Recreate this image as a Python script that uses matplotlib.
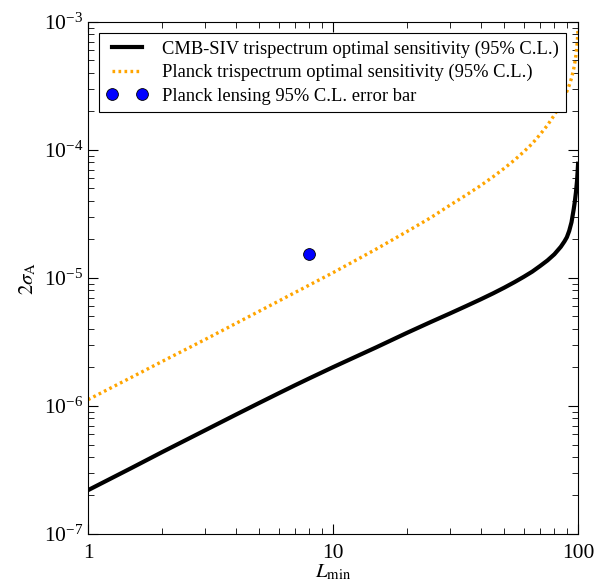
import numpy as np
import matplotlib
matplotlib.use("Agg")
import matplotlib.pyplot as plt

plt.rcParams['font.family'] = ['Liberation Serif', 'DejaVu Serif']
plt.rcParams['mathtext.fontset'] = 'stix'

# L_min sample points
L = [1, 1.5, 2, 3, 4, 5, 6, 7, 8, 10, 12, 15, 20, 25, 30, 35, 40, 45, 50, 55,
     60, 65, 70, 75, 80, 85, 88, 90, 92, 94, 96, 97, 98, 99, 99.5, 100]

# CMB-SIV trispectrum optimal sensitivity (95% C.L.)
cmb_s4 = [2.2e-7, 3.27e-7, 4.35e-7, 6.45e-7, 8.53e-7, 1.057e-6, 1.257e-6, 1.453e-6,
          1.643e-6, 2.01e-6, 2.36e-6, 2.87e-6, 3.72e-6, 4.52e-6, 5.28e-6, 6.04e-6,
          6.8e-6, 7.58e-6, 8.4e-6, 9.27e-6, 1.02e-5, 1.12e-5, 1.24e-5, 1.37e-5,
          1.53e-5, 1.75e-5, 1.93e-5, 2.08e-5, 2.33e-5, 2.72e-5, 3.45e-5, 3.95e-5,
          4.65e-5, 5.7e-5, 6.6e-5, 7.8e-5]

# Planck trispectrum optimal sensitivity (95% C.L.)
planck = [1.12e-6, 1.67e-6, 2.22e-6, 3.3e-6, 4.4e-6, 5.5e-6, 6.6e-6, 7.7e-6,
          8.8e-6, 1.1e-5, 1.33e-5, 1.68e-5, 2.3e-5, 2.95e-5, 3.7e-5, 4.45e-5,
          5.26e-5, 6.17e-5, 7.19e-5, 8.33e-5, 9.66e-5, 1.12e-4, 1.32e-4, 1.56e-4,
          1.87e-4, 2.28e-4, 2.6e-4, 2.86e-4, 3.19e-4, 3.63e-4, 4.3e-4, 4.8e-4,
          5.5e-4, 6.6e-4, 7.5e-4, 9.0e-4]

# Planck lensing point
lens_L = [8]
lens_val = [1.55e-5]

fig = plt.figure(figsize=(6.05, 5.86), dpi=100)
ax = fig.add_axes([0.1455, 0.0887, 0.81, 0.874])

ax.plot(L, cmb_s4, color='black', lw=3.0,
        label='CMB-SIV trispectrum optimal sensitivity (95% C.L.)')
ax.plot(L, planck, color='orange', lw=2.4, ls=(0, (0.8, 1.0)),
        label='Planck trispectrum optimal sensitivity (95% C.L.)')
ax.plot(lens_L, lens_val, 'o', color='blue', mec='black', mew=0.6, ms=8.5,
        ls='none', label='Planck lensing 95% C.L. error bar')

ax.set_xscale('log')
ax.set_yscale('log')
ax.set_xlim(1, 100)
ax.set_ylim(1e-7, 1e-3)
ax.set_xticks([1, 10, 100])
ax.set_xticklabels(['1', '10', '100'])
ax.tick_params(which='both', direction='in', top=True, right=True, labelsize=15.5)
ax.tick_params(which='major', length=7)
ax.tick_params(which='minor', length=4)
ax.tick_params(axis='x', pad=7)

ax.set_xlabel(r'$L_{\rm min}$', fontsize=15, labelpad=0)
ax.set_ylabel(r'$2\sigma_{\rm A}$', fontsize=15)

leg = ax.legend(loc='upper left', numpoints=2, fontsize=13.3, fancybox=False,
                edgecolor='black', framealpha=1, handlelength=2.2,
                labelspacing=0.35, borderaxespad=0.6)
leg.get_frame().set_linewidth(0.8)

fig.savefig('out.png', dpi=100)
